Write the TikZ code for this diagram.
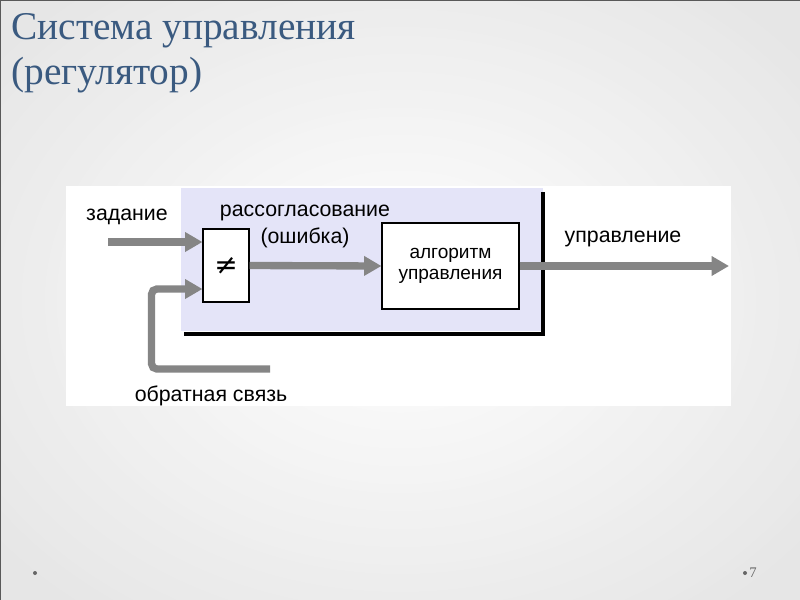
\documentclass[tikz,border=0pt]{standalone}
\usepackage{fontspec}
\setmainfont{Liberation Sans}
\newfontfamily\titlefont{Liberation Serif}
\newfontfamily\symfont{DejaVu Sans}
\usetikzlibrary{arrows.meta}
\definecolor{titleblue}{HTML}{3A5A80}
\definecolor{lav}{HTML}{E4E4F8}
\definecolor{arrgray}{HTML}{858585}
\tikzset{
  flow/.style={draw=arrgray, line width=5.5pt, -{Triangle[length=13pt,width=14pt]}},
  blockbox/.style={draw=black, fill=white, line width=0.8pt, inner sep=0pt},
  lbl/.style={font=\fontsize{16}{18}\selectfont, inner sep=0pt, text=black},
}
\begin{document}
\begin{tikzpicture}[x=0.75pt,y=-0.75pt]
\useasboundingbox (0,0) rectangle (800,600);
% background
\shade[inner color=white, outer color=gray!35] (-120,-100) rectangle (920,700);
\fill[white, opacity=0.45] (0,0) rectangle (800,600);
\draw[gray!70!black, line width=0.8pt] (0.5,600) -- (0.5,0.5) -- (800,0.5);
% title
\node[anchor=base west, inner sep=0pt, text=titleblue, font=\titlefont\fontsize{29.5}{32}\selectfont] (t1) at (11,39) {Система управления};
\node[anchor=base west, inner sep=0pt, text=titleblue, font=\titlefont\fontsize{29.5}{32}\selectfont] (t2) at (11,84) {(регулятор)};
% white panel
\fill[white] (66,186) rectangle (731,406);
% lavender box with shadow
\fill[lav] (181,188) rectangle (543,331);
\draw[black, line width=2.4pt] (184,334) -- (543,334) -- (543,192);
% blocks
\node[blockbox, minimum width=34.5pt, minimum height=54.75pt] (cmp) at (226,265.5) {\symfont\fontsize{21}{21}\selectfont ≠};
\node[blockbox, minimum width=102.75pt, minimum height=64.5pt, align=center, font=\fontsize{14.3}{16}\selectfont] (alg) at (450.5,266) {алгоритм\\управления};
% coordinates
\coordinate (zin) at (108,242);
\coordinate (out) at (729,266);
\coordinate (fb0) at (270,369);
\coordinate (fb1) at (151.5,369);
\coordinate (fb2) at (151.5,289);
% arrows
\draw[flow] (zin) -- (zin -| cmp.west);
\draw[flow, rounded corners=4pt] (fb0) -- (fb1) -- (fb2) -- (fb2 -| cmp.west);
\draw[flow] (cmp.east) -- (alg.west);
\draw[flow] (alg.east) -- (out);
% labels
\node[lbl] (lz) at (127,217) {задание};
\node[lbl] (lr1) at (305,213) {рассогласование};
\node[lbl] (lr2) at (305,238) {(ошибка)};
\node[lbl] (lu) at (623,239) {управление};
\node[lbl] (lo) at (211,396) {обратная связь};
% footer
\fill[gray!80!black] (35,573) circle (2);
\fill[gray!80!black] (745,573) circle (2);
\node[anchor=west, inner sep=0pt, text=gray!80!black, font=\titlefont\fontsize{11}{11}\selectfont] (pg) at (749,573) {7};
\end{tikzpicture}
\end{document}
